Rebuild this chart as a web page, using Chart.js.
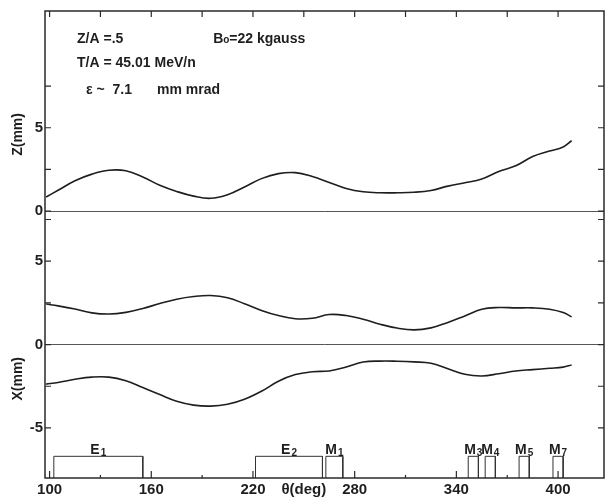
<!DOCTYPE html>
<html>
<head>
<meta charset="utf-8">
<script src="https://cdn.jsdelivr.net/npm/chart.js@4.4.0/dist/chart.umd.min.js"></script>
<style>
  html, body { margin: 0; padding: 0; background: #fff; }
  #wrap { width: 612px; height: 498px; }
</style>
</head>
<body>
<div id="wrap"><canvas id="orbita"></canvas></div>
<script>
// theta (deg) e envelopes
const theta = [98, 105, 115, 125, 135, 145, 155, 165, 175, 185, 195, 205, 215, 225, 235, 245, 255,
  265, 275, 285, 295, 305, 315, 325, 335, 345, 355, 365, 375, 385, 395, 403, 408];
const zEnvelope = [0.85, 1.25, 1.82, 2.22, 2.45, 2.42, 2.05, 1.55, 1.18, 0.90, 0.77, 0.98, 1.45, 1.95, 2.25, 2.31, 2.08,
  1.72, 1.36, 1.16, 1.10, 1.10, 1.13, 1.24, 1.50, 1.70, 1.93, 2.38, 2.72, 3.27, 3.60, 3.85, 4.22];
const xUpper = [2.43, 2.32, 2.13, 1.90, 1.83, 1.93, 2.16, 2.46, 2.72, 2.88, 2.94, 2.81, 2.45, 2.05, 1.74, 1.55, 1.58,
  1.80, 1.74, 1.52, 1.22, 0.99, 0.88, 1.00, 1.33, 1.72, 2.12, 2.22, 2.20, 2.20, 2.12, 1.92, 1.66];
const xLower = [-2.37, -2.27, -2.08, -1.95, -1.95, -2.17, -2.58, -3.00, -3.40, -3.63, -3.69, -3.58, -3.28, -2.80, -2.20, -1.80, -1.63,
  -1.58, -1.35, -1.05, -0.99, -1.00, -1.04, -1.12, -1.45, -1.78, -1.88, -1.75, -1.58, -1.50, -1.42, -1.35, -1.22];

const thetaTicks = [100, 130, 160, 190, 220, 250, 280, 310, 340, 370, 400];
const thetaLabels = ['100', '', '160', '', '220', 'θ(deg)', '280', '', '340', '', '400'];
const zTicks = [0, 2.5, 5, 7.5];
const zLabels = ['0', '', '5', ''];
const xTicks = [-5, -2.5, 0, 2.5, 5, 7.5];
const xLabels = ['-5', '', '0', '', '5', ''];

// elementos (E = eletrostaticos, M = magneticos)
const magnetLetter = ['E', 'E', 'M', 'M', 'M', 'M', 'M'];
const magnetIndex = ['1', '2', '1', '3', '4', '5', '7'];
const magnetStart = [102.5, 221.5, 263, 347, 357, 377, 397];
const magnetEnd = [155, 261, 273, 353, 363, 383, 403];

const boxTop = -6.7;
const fonte = "'Liberation Sans', Arial, sans-serif";
const tinta = '#1e1e1e';

Chart.defaults.font.family = fonte;
Chart.defaults.font.weight = 'bold';
Chart.defaults.color = tinta;

const boxData = [];
magnetStart.forEach((s, i) => {
  const e = magnetEnd[i];
  boxData.push({ x: s, y: -8 }, { x: s, y: boxTop }, { x: e, y: boxTop }, { x: e, y: -8 }, { x: e, y: null });
});

const curva = (vals, eixo) => ({
  data: theta.map((t, i) => ({ x: t, y: vals[i] })),
  yAxisID: eixo,
  showLine: true,
  pointRadius: 0,
  borderColor: tinta,
  borderWidth: 1.6,
  tension: 0.4
});

const moldura = {
  id: 'moldura',
  afterDatasetsDraw(chart) {
    const { ctx, chartArea: a, scales } = chart;
    const sx = scales.x, sz = scales.yZ, sxx = scales.yX;
    ctx.save();
    ctx.strokeStyle = '#2a2a2a';
    ctx.lineWidth = 1.5;
    ctx.strokeRect(a.left, a.top, a.right - a.left, a.bottom - a.top);

    // marcas para dentro
    ctx.lineWidth = 1.2;
    ctx.beginPath();
    sx.ticks.forEach(t => {
      const px = sx.getPixelForValue(t.value);
      const longo = (t.value - 100) % 60 === 0;
      if (t.value !== 250) {
        ctx.moveTo(px, a.bottom);
        ctx.lineTo(px, a.bottom - (longo ? 7 : 3));
      }
      ctx.moveTo(px, a.top);
      ctx.lineTo(px, a.top + 6);
    });
    [sz, sxx].forEach(s => s.ticks.forEach(t => {
      const py = s.getPixelForValue(t.value);
      ctx.moveTo(a.left, py);
      ctx.lineTo(a.left + 6, py);
      ctx.moveTo(a.right, py);
      ctx.lineTo(a.right - 6, py);
    }));
    ctx.stroke();

    // nomes dos elementos
    ctx.fillStyle = tinta;
    ctx.textBaseline = 'alphabetic';
    const base = sxx.getPixelForValue(boxTop) - 2;
    magnetLetter.forEach((l, i) => {
      const cx = (sx.getPixelForValue(magnetStart[i]) + sx.getPixelForValue(magnetEnd[i])) / 2;
      ctx.font = 'bold 14px ' + fonte;
      const w1 = ctx.measureText(l).width;
      ctx.font = 'bold 10px ' + fonte;
      const w2 = ctx.measureText(magnetIndex[i]).width;
      const x0 = cx - (w1 + w2 + 1) / 2;
      ctx.font = 'bold 14px ' + fonte;
      ctx.textAlign = 'left';
      ctx.fillText(l, x0, base);
      ctx.font = 'bold 10px ' + fonte;
      ctx.fillText(magnetIndex[i], x0 + w1 + 1, base + 2);
    });

    // parametros do feixe
    ctx.font = 'bold 14px ' + fonte;
    ctx.fillText('Z/A =.5', sx.getPixelForValue(116.2), sz.getPixelForValue(10.08));
    ctx.fillText('T/A = 45.01 MeV/n', sx.getPixelForValue(116.2), sz.getPixelForValue(8.65));
    ctx.fillText('ε ~  7.1', sx.getPixelForValue(121.5), sz.getPixelForValue(7.05));
    ctx.fillText('mm mrad', sx.getPixelForValue(163.4), sz.getPixelForValue(7.05));
    const bx = sx.getPixelForValue(196.5), by = sz.getPixelForValue(10.08);
    ctx.fillText('B', bx, by);
    const wb = ctx.measureText('B').width;
    ctx.font = 'bold 10px ' + fonte;
    ctx.fillText('o', bx + wb, by);
    const wo = ctx.measureText('o').width;
    ctx.font = 'bold 14px ' + fonte;
    ctx.fillText('=22 kgauss', bx + wb + wo, by);

    // titulos dos eixos verticais (deslocados para baixo como no original)
    ctx.font = 'bold 14px ' + fonte;
    ctx.textAlign = 'center';
    ctx.textBaseline = 'middle';
    [['Z(mm)', sz.getPixelForValue(4.6)], ['X(mm)', sxx.getPixelForValue(-2.05)]].forEach(([txt, py]) => {
      ctx.save();
      ctx.translate(18, py);
      ctx.rotate(-Math.PI / 2);
      ctx.fillText(txt, 0, 0);
      ctx.restore();
    });
    ctx.restore();
  }
};

const zeroLine = c => (c.tick && c.tick.value === 0 ? '#555' : 'rgba(0,0,0,0)');

new Chart(document.getElementById('orbita'), {
  type: 'scatter',
  data: {
    datasets: [
      curva(zEnvelope, 'yZ'),
      curva(xUpper, 'yX'),
      curva(xLower, 'yX'),
      {
        data: boxData,
        yAxisID: 'yX',
        showLine: true,
        spanGaps: false,
        pointRadius: 0,
        borderColor: '#333',
        borderWidth: 1,
        tension: 0
      }
    ]
  },
  options: {
    responsive: true,
    maintainAspectRatio: false,
    animation: false,
    layout: { padding: { top: 7, right: 8, left: 0, bottom: 0 } },
    plugins: { legend: { display: false }, tooltip: { enabled: false } },
    scales: {
      x: {
        type: 'linear',
        min: 97.3,
        max: 427.1,
        afterBuildTicks: s => { s.ticks = thetaTicks.map(v => ({ value: v })); },
        afterFit: s => { s.height = 20; },
        grid: { display: false },
        border: { display: false },
        ticks: {
          autoSkip: false,
          maxRotation: 0,
          padding: -5,
          font: { size: 15, weight: 'bold' },
          callback: (v, i) => thetaLabels[i]
        }
      },
      // o primeiro eixo da pilha fica embaixo
      yX: {
        type: 'linear',
        position: 'left',
        stack: 'painel',
        stackWeight: 16,
        min: -8,
        max: 8,
        afterBuildTicks: s => { s.ticks = xTicks.map(v => ({ value: v })); },
        afterFit: s => { s.width = 45; },
        grid: { drawTicks: false, color: zeroLine, lineWidth: 1 },
        border: { display: false },
        ticks: { padding: 2, font: { size: 15, weight: 'bold' }, callback: (v, i) => xLabels[i] }
      },
      yZ: {
        type: 'linear',
        position: 'left',
        stack: 'painel',
        stackWeight: 12,
        min: 0,
        max: 12,
        afterBuildTicks: s => { s.ticks = zTicks.map(v => ({ value: v })); },
        afterFit: s => { s.width = 45; },
        grid: { drawTicks: false, color: zeroLine, lineWidth: 1 },
        border: { display: false },
        ticks: { padding: 2, font: { size: 15, weight: 'bold' }, callback: (v, i) => zLabels[i] }
      }
    }
  },
  plugins: [moldura]
});
</script>
</body>
</html>
